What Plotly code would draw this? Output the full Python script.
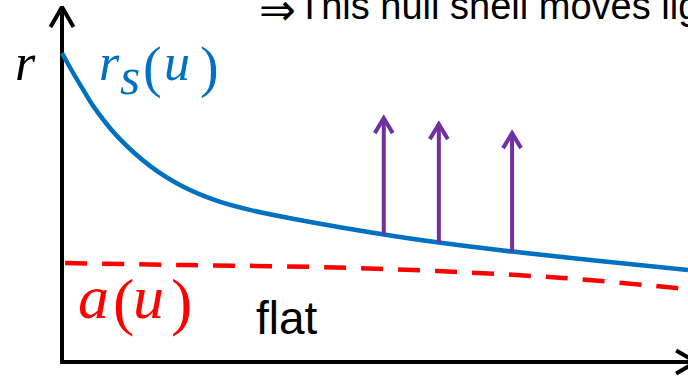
import numpy as np
import plotly.graph_objects as go

# Boundary of the shell r_s(u): decreasing with retarded time u
u_shell = [0.0, 0.16, 0.34, 0.50, 0.88, 1.41, 1.93, 2.48, 3.00, 3.75, 5.14, 6.02, 7.19, 8.59, 10.0]
r_shell = [10.30, 9.70, 9.07, 8.53, 7.53, 6.53, 5.85, 5.37, 5.07, 4.75, 4.25, 3.98, 3.68, 3.37, 3.07]

# Inner radius a(u) (dashed)
u_a = [0.05, 2.0, 4.0, 6.0, 8.0, 10.0]
r_a = [3.30, 3.23, 3.17, 3.03, 2.80, 2.43]

# Outgoing null rays leaving the shell
u_rays = [5.14, 6.02, 7.19]
r_ray_tops = [8.13, 7.93, 7.63]

# Axis extents
u_axis_end = 10.13
r_axis_end = 11.83

W, H = 688, 382
X0, Y0 = 62, 362          # pixel position of the origin
SX, SY = 62.6, 30.0       # pixels per unit

BLUE = "#0070C0"
RED = "#FF0000"
PURPLE = "#7030A0"
BLACK = "#000000"


def chevron_up(u, r, half_w, h):
    return [u - half_w, u, u + half_w], [r - h, r, r - h]


fig = go.Figure()

# axes with open arrowheads
fig.add_trace(go.Scatter(x=[0, 0], y=[0, r_axis_end], mode="lines",
                         line=dict(color=BLACK, width=4)))
cx, cy = chevron_up(0, r_axis_end, 11.5 / SX, 20 / SY)
fig.add_trace(go.Scatter(x=cx, y=cy, mode="lines",
                         line=dict(color=BLACK, width=4)))
fig.add_trace(go.Scatter(x=[-0.03, u_axis_end], y=[0, 0], mode="lines",
                         line=dict(color=BLACK, width=4)))
hw_u, hh_r = 20 / SX, 11.5 / SY
fig.add_trace(go.Scatter(x=[u_axis_end - hw_u, u_axis_end, u_axis_end - hw_u],
                         y=[hh_r, 0, -hh_r], mode="lines",
                         line=dict(color=BLACK, width=4)))

# a(u)
fig.add_trace(go.Scatter(x=u_a, y=r_a, mode="lines",
                         line=dict(color=RED, width=4.5, dash="22px,15px", shape="spline")))

# r_s(u)
fig.add_trace(go.Scatter(x=u_shell, y=r_shell, mode="lines",
                         line=dict(color=BLUE, width=4.5, shape="spline", smoothing=1.0)))

# null rays
r_ray_bases = np.interp(u_rays, u_shell, r_shell)
for u0, rb, rt in zip(u_rays, r_ray_bases, r_ray_tops):
    fig.add_trace(go.Scatter(x=[u0, u0], y=[rb, rt], mode="lines",
                             line=dict(color=PURPLE, width=4)))
    ax, ay = chevron_up(u0, rt, 9 / SX, 15 / SY)
    fig.add_trace(go.Scatter(x=ax, y=ay, mode="lines",
                             line=dict(color=PURPLE, width=4)))


def ann(text, px, py, size, color, family, xanchor="left", yanchor="middle"):
    fig.add_annotation(text=text, x=px / W, y=1 - py / H, xref="paper", yref="paper",
                       xanchor=xanchor, yanchor=yanchor, showarrow=False, borderpad=0,
                       font=dict(size=size, color=color, family=family))


SERIF = "Liberation Serif"
SANS = "Liberation Sans"

# axis label
ann("<i>r</i>", 25, 62, 52, BLACK, SERIF, xanchor="center")

# r_s(u), set glyph by glyph
ann("<i>r</i>", 109, 63, 52, BLUE, SERIF, xanchor="center")
ann("<i>s</i>", 130, 77, 52, BLUE, SERIF, xanchor="center")
ann("(", 152, 67, 56, BLUE, SERIF, xanchor="center")
ann("<i>u</i>", 177, 63, 52, BLUE, SERIF, xanchor="center")
ann(")", 209, 67, 56, BLUE, SERIF, xanchor="center")

# a(u)
ann("<i>a</i>", 93, 297, 62, RED, SERIF, xanchor="center")
ann("(", 124, 301, 64, RED, SERIF, xanchor="center")
ann("<i>u</i>", 148, 297, 62, RED, SERIF, xanchor="center")
ann(")", 181, 301, 64, RED, SERIF, xanchor="center")

ann("flat", 255, 317.5, 46, BLACK, SANS)

# heading line running off the top-right edge
ann("⇒", 277.5, 9, 44, BLACK, "DejaVu Sans", xanchor="center")
ann("This null shell moves lightlike", 297, 5.5, 38, BLACK, SANS)

fig.update_layout(
    width=W, height=H, margin=dict(l=0, r=0, t=0, b=0),
    paper_bgcolor="white", plot_bgcolor="white", showlegend=False,
    xaxis=dict(range=[-X0 / SX, (W - X0) / SX], visible=False, fixedrange=True),
    yaxis=dict(range=[(Y0 - H) / SY, Y0 / SY], visible=False, fixedrange=True),
)

fig.write_html("out.html")
